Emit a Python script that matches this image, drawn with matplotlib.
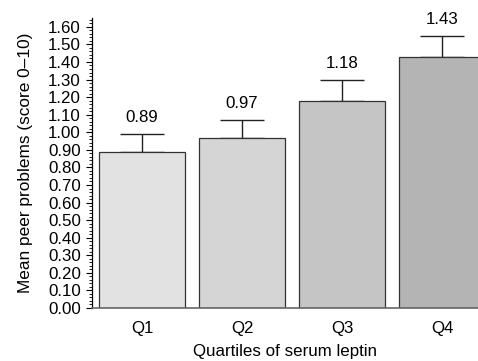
import numpy as np
import matplotlib.pyplot as plt
from matplotlib.ticker import MultipleLocator, FormatStrFormatter

plt.rcParams['font.family'] = ['Liberation Sans', 'DejaVu Sans']

quartiles = ['Q1', 'Q2', 'Q3', 'Q4']
means = [0.89, 0.97, 1.18, 1.43]
upper_err = [0.10, 0.10, 0.12, 0.12]
colors = ['#e2e2e2', '#d5d5d6', '#c5c5c6', '#b4b4b5']

fig = plt.figure(figsize=(4.78, 3.61), dpi=100)
ax = fig.add_axes([0.1925, 0.1468, 0.8075, 0.8032])

x = np.arange(len(quartiles))
ax.bar(x, means, width=0.86, color=colors, edgecolor='#333333', linewidth=0.9, zorder=2)
ax.errorbar(x, means, yerr=[np.zeros(len(means)), upper_err], fmt='none',
            ecolor='#222222', elinewidth=1.0, capsize=15.5, capthick=1.0, zorder=1)

for xi, m, e in zip(x, means, upper_err):
    ax.text(xi, m + e + 0.05, f'{m:.2f}', ha='center', va='bottom', fontsize=12.2)

ax.set_xlim(-0.5, 3.36)
ax.set_ylim(0, 1.65)
ax.set_xticks(x)
ax.set_xticklabels(quartiles, fontsize=12.2)
ax.yaxis.set_minor_locator(MultipleLocator(0.02))
ax.yaxis.set_major_formatter(FormatStrFormatter('%.2f'))
ax.set_yticks(np.arange(0, 1.61, 0.1))
ax.tick_params(axis='y', which='major', length=4, width=0.8, labelsize=12.2, pad=4)
ax.tick_params(axis='y', which='minor', length=2.5, width=0.6)
ax.tick_params(axis='x', length=0, pad=9)

for s in ['top', 'right']:
    ax.spines[s].set_visible(False)
ax.spines['bottom'].set_color('#666666')
ax.spines['bottom'].set_linewidth(1.2)
ax.spines['left'].set_linewidth(0.9)

ax.set_xlabel('Quartiles of serum leptin', fontsize=12.2, labelpad=6)
ax.set_ylabel('Mean peer problems (score 0–10)', fontsize=12.4, labelpad=11)

fig.savefig('out.png', dpi=100)
